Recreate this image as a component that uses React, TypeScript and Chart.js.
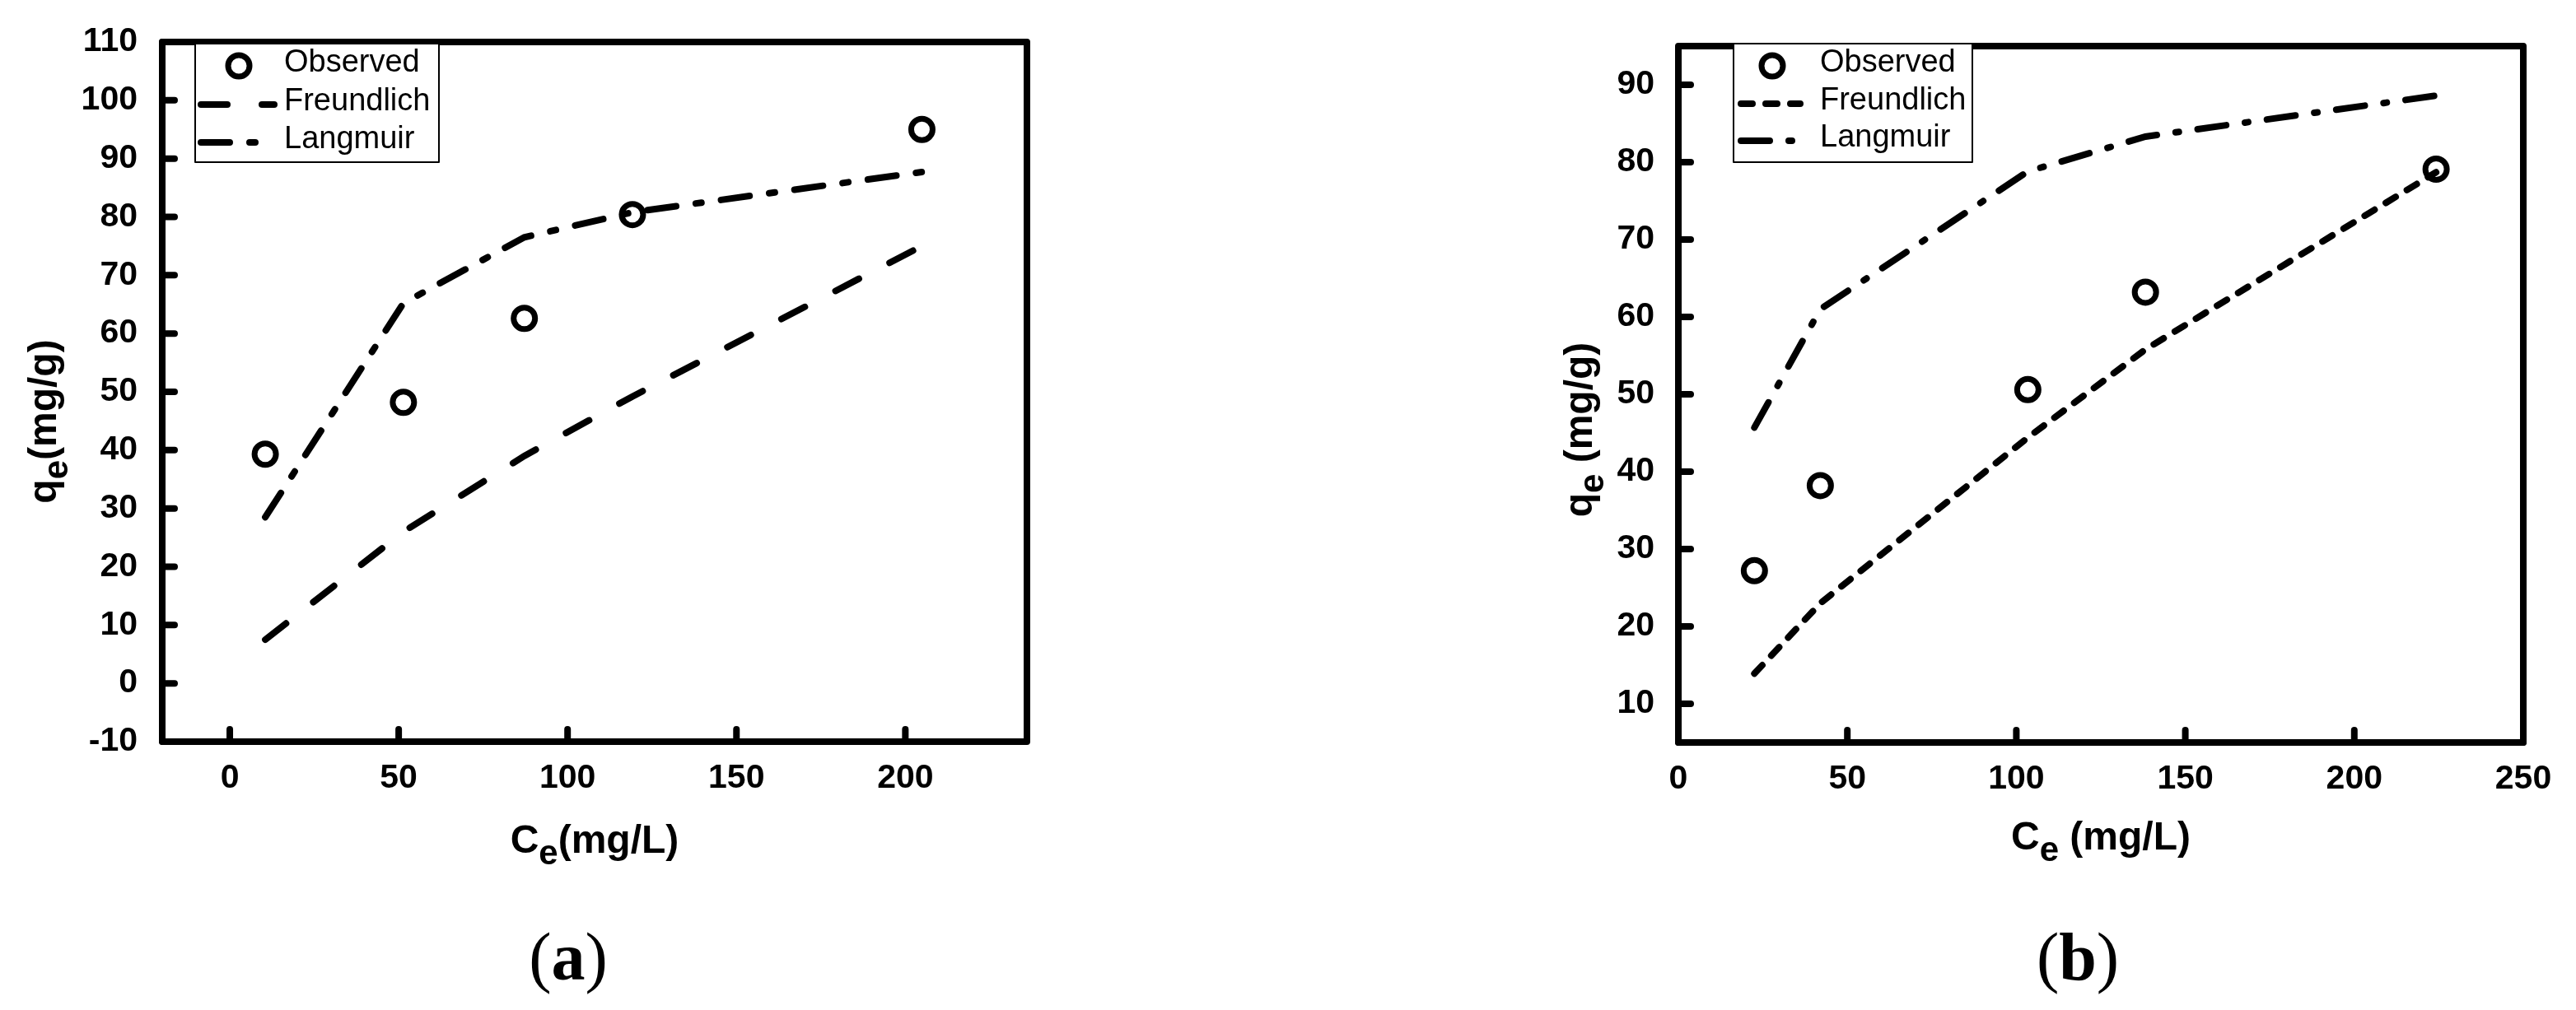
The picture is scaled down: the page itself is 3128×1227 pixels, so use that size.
import React, { useEffect, useRef } from 'react';
import { Chart, registerables } from 'chart.js';

Chart.register(...registerables);

// ---------- Panel (a) data ----------
const ceA = [10.5, 51.4, 87.2, 119.2, 204.9];
const observedA = [39.3, 48.2, 62.6, 80.4, 95.0];
const freundlichA = [7.5, 26.0, 39.0, 49.2, 75.0];
const langmuirA = [28.5, 65.2, 76.5, 80.8, 87.7];
const xTicksA = [0, 50, 100, 150, 200];
const yTicksA = [-10, 0, 10, 20, 30, 40, 50, 60, 70, 80, 90, 100, 110];

// ---------- Panel (b) data ----------
const ceB = [22.5, 42.0, 103.4, 138.2, 224.2];
const observedB = [27.2, 38.2, 50.6, 63.2, 79.1];
const freundlichB = [13.9, 23.0, 44.4, 55.8, 78.7];
const langmuirB = [45.7, 61.0, 78.8, 83.3, 88.6];
const xTicksB = [0, 50, 100, 150, 200, 250];
const yTicksB = [10, 20, 30, 40, 50, 60, 70, 80, 90];

const seriesNames = ['Observed', 'Freundlich', 'Langmuir'];

const W = 1564;
const H = 1227;
const SANS = "'Liberation Sans', Arial, sans-serif";
const SERIF = "'Liberation Serif', 'Times New Roman', serif";

type Part = { text: string; font: string; dy?: number };

const titleFont = `bold 48px ${SANS}`;
const subFont = `bold 42px ${SANS}`;

const panels = [
  {
    key: 'a',
    offsetX: 0,
    area: { left: 197, top: 51, right: 1247, bottom: 901 },
    xRange: [-20, 236],
    yRange: [-10, 110],
    ce: ceA,
    observed: observedA,
    freundlich: freundlichA,
    langmuir: langmuirA,
    xTicks: xTicksA,
    yTicks: yTicksA,
    yLabelPad: 22,
    freundlichDash: [32, 42],
    langmuirDash: [35, 24, 7, 24],
    legend: { box: [237, 53, 296, 144], rows: [80, 127, 173], sample: [244, 333], circleX: 290, textX: 345 },
    xTitle: [
      { text: 'C', font: titleFont },
      { text: 'e', font: subFont, dy: 14 },
      { text: '(mg/L)', font: titleFont },
    ] as Part[],
    xTitleY: 1036,
    yTitle: [
      { text: 'q', font: titleFont },
      { text: 'e', font: subFont, dy: 14 },
      { text: '(mg/g)', font: titleFont },
    ] as Part[],
    yTitleX: 68,
    yTitleCY: 512,
    label: 'a',
    labelCX: 690,
  },
  {
    key: 'b',
    offsetX: 1564,
    area: { left: 474, top: 56, right: 1500, bottom: 902 },
    xRange: [0, 250],
    yRange: [5, 95],
    ce: ceB,
    observed: observedB,
    freundlich: freundlichB,
    langmuir: langmuirB,
    xTicks: xTicksB,
    yTicks: yTicksB,
    yLabelPad: 21,
    freundlichDash: [14, 16],
    langmuirDash: [35, 23, 4, 23],
    legend: { box: [541, 53, 290, 144], rows: [80, 126, 171], sample: [550, 622], circleX: 588, textX: 646 },
    xTitle: [
      { text: 'C', font: titleFont },
      { text: 'e', font: subFont, dy: 14 },
      { text: ' (mg/L)', font: titleFont },
    ] as Part[],
    xTitleY: 1032,
    yTitle: [
      { text: 'q', font: titleFont },
      { text: 'e', font: subFont, dy: 14 },
      { text: ' (mg/g)', font: titleFont },
    ] as Part[],
    yTitleX: 369,
    yTitleCY: 522,
    label: 'b',
    labelCX: 959,
  },
];

function drawParts(ctx: CanvasRenderingContext2D, parts: Part[], cx: number, y: number) {
  const widths = parts.map((p) => {
    ctx.font = p.font;
    return ctx.measureText(p.text).width;
  });
  const total = widths.reduce((s, v) => s + v, 0);
  let x = cx - total / 2;
  parts.forEach((p, i) => {
    ctx.font = p.font;
    ctx.fillText(p.text, x, y + (p.dy || 0));
    x += widths[i];
  });
}

const decorPlugin = {
  id: 'decor',
  afterDatasetsDraw(chart: any, _args: any, opts: any) {
    const { ctx, chartArea: a, scales } = chart;
    const p = opts.panel;
    ctx.save();
    ctx.strokeStyle = '#000';
    ctx.fillStyle = '#000';
    // inward ticks
    ctx.lineWidth = 8;
    ctx.lineCap = 'round';
    const len = 15;
    scales.x.ticks.forEach((t: any) => {
      const px = scales.x.getPixelForValue(t.value);
      ctx.beginPath();
      ctx.moveTo(px, a.bottom);
      ctx.lineTo(px, a.bottom - len);
      ctx.stroke();
    });
    scales.y.ticks.forEach((t: any) => {
      const py = scales.y.getPixelForValue(t.value);
      ctx.beginPath();
      ctx.moveTo(a.left, py);
      ctx.lineTo(a.left + len, py);
      ctx.stroke();
    });
    // frame
    ctx.lineCap = 'butt';
    ctx.lineJoin = 'round';
    ctx.lineWidth = 8;
    ctx.strokeRect(a.left, a.top, a.right - a.left, a.bottom - a.top);

    // legend
    const lg = p.legend;
    const [bx, by, bw, bh] = lg.box;
    ctx.fillStyle = '#fff';
    ctx.fillRect(bx, by, bw, bh);
    ctx.lineWidth = 2;
    ctx.strokeStyle = '#000';
    ctx.strokeRect(bx, by, bw, bh);
    ctx.fillStyle = '#000';
    // Observed marker
    ctx.lineWidth = 7;
    ctx.beginPath();
    ctx.arc(lg.circleX, lg.rows[0], 13, 0, Math.PI * 2);
    ctx.stroke();
    // line samples
    const dashes = [p.freundlichDash, p.langmuirDash];
    [1, 2].forEach((r, i) => {
      ctx.lineWidth = 8;
      ctx.lineCap = 'round';
      ctx.setLineDash(dashes[i]);
      ctx.beginPath();
      ctx.moveTo(lg.sample[0], lg.rows[r]);
      ctx.lineTo(lg.sample[1], lg.rows[r]);
      ctx.stroke();
    });
    ctx.setLineDash([]);
    ctx.font = `38px ${SANS}`;
    ctx.textAlign = 'left';
    ctx.textBaseline = 'middle';
    seriesNames.forEach((n, i) => {
      ctx.fillText(n, lg.textX, lg.rows[i] - 3);
    });

    // axis titles
    ctx.textAlign = 'left';
    ctx.textBaseline = 'alphabetic';
    drawParts(ctx, p.xTitle, (a.left + a.right) / 2, p.xTitleY);
    ctx.save();
    ctx.translate(p.yTitleX, p.yTitleCY);
    ctx.rotate(-Math.PI / 2);
    drawParts(ctx, p.yTitle, 0, 0);
    ctx.restore();

    // panel label
    drawParts(
      ctx,
      [
        { text: '(', font: `82px ${SERIF}` },
        { text: p.label, font: `bold 82px ${SERIF}` },
        { text: ')', font: `82px ${SERIF}` },
      ],
      p.labelCX,
      1190
    );
    ctx.restore();
  },
};

function pts(xs: number[], ys: number[]) {
  return xs.map((x, i) => ({ x, y: ys[i] }));
}

function PanelChart({ panel }: { panel: any }) {
  const ref = useRef<HTMLCanvasElement>(null);
  useEffect(() => {
    const a = panel.area;
    const tickFont = { family: SANS, size: 41, weight: 'bold' as const };
    const chart = new Chart(ref.current as HTMLCanvasElement, {
      type: 'line',
      data: {
        datasets: [
          {
            label: seriesNames[0],
            data: pts(panel.ce, panel.observed),
            showLine: false,
            pointStyle: 'circle',
            pointRadius: 13,
            pointBorderWidth: 7,
            pointBorderColor: '#000',
            pointBackgroundColor: 'rgba(0,0,0,0)',
            borderColor: '#000',
          },
          {
            label: seriesNames[1],
            data: pts(panel.ce, panel.freundlich),
            borderColor: '#000',
            borderWidth: 8,
            borderDash: panel.freundlichDash,
            borderCapStyle: 'round',
            pointRadius: 0,
            tension: 0,
            fill: false,
          },
          {
            label: seriesNames[2],
            data: pts(panel.ce, panel.langmuir),
            borderColor: '#000',
            borderWidth: 8,
            borderDash: panel.langmuirDash,
            borderCapStyle: 'round',
            pointRadius: 0,
            tension: 0,
            fill: false,
          },
        ],
      },
      options: {
        responsive: false,
        animation: false,
        devicePixelRatio: 1,
        layout: {
          padding: { left: 0, top: a.top, right: W - a.right, bottom: H - a.bottom - 100 },
        },
        plugins: {
          legend: { display: false },
          tooltip: { enabled: false },
          decor: { panel },
        } as any,
        scales: {
          x: {
            type: 'linear',
            min: panel.xRange[0],
            max: panel.xRange[1],
            grid: { display: false },
            border: { display: false },
            ticks: { font: tickFont, color: '#000', padding: 12, maxRotation: 0, autoSkip: false },
            afterBuildTicks: (s: any) => {
              s.ticks = panel.xTicks.map((v: number) => ({ value: v }));
            },
            afterFit: (s: any) => {
              s.height = 100;
            },
          },
          y: {
            type: 'linear',
            min: panel.yRange[0],
            max: panel.yRange[1],
            grid: { display: false },
            border: { display: false },
            ticks: { font: tickFont, color: '#000', padding: panel.yLabelPad, autoSkip: false },
            afterBuildTicks: (s: any) => {
              s.ticks = panel.yTicks.map((v: number) => ({ value: v }));
            },
            afterFit: (s: any) => {
              s.width = a.left;
            },
          },
        },
      },
      plugins: [decorPlugin as any],
    });
    return () => chart.destroy();
  }, [panel]);
  return (
    <canvas
      ref={ref}
      width={W}
      height={H}
      style={{ position: 'absolute', left: panel.offsetX, top: 0, width: W, height: H }}
    />
  );
}

export default function App() {
  return (
    <div
      style={{
        position: 'fixed',
        left: 0,
        top: 0,
        width: 3128,
        height: 1227,
        background: '#fff',
        overflow: 'hidden',
      }}
    >
      {panels.map((p) => (
        <PanelChart key={p.key} panel={p} />
      ))}
    </div>
  );
}
